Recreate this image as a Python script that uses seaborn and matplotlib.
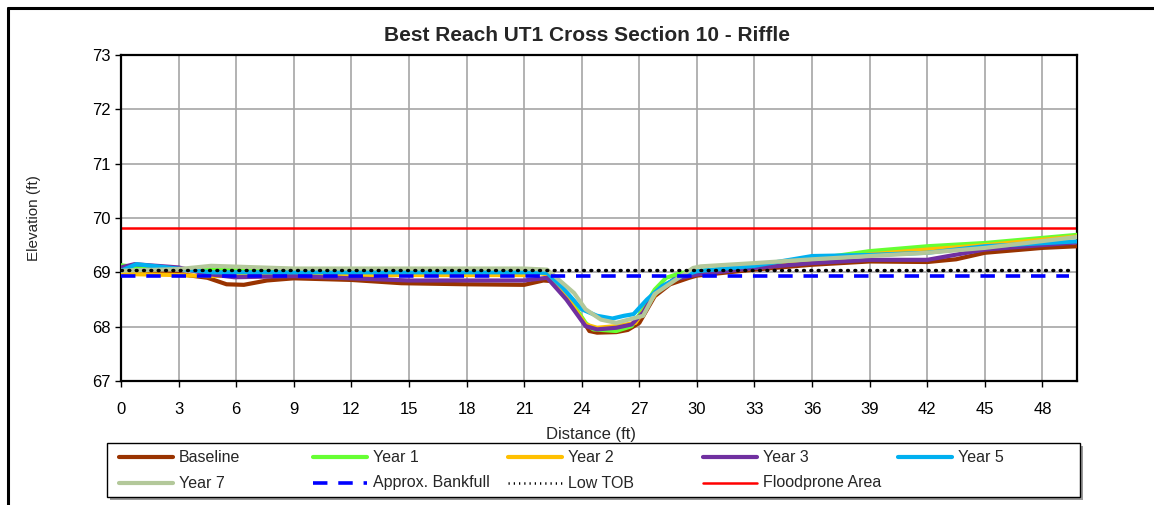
"""Cross section plot: Best Reach UT1 XS 10 (riffle), survey overlay."""

import matplotlib
import matplotlib.pyplot as plt
import pandas as pd
import seaborn as sns
from matplotlib.lines import Line2D
from matplotlib.patches import Rectangle

matplotlib.use("Agg")

W, H = 1154, 505

# Survey data (distance ft, elevation ft)
baseline_x = [0, 1, 3, 4.5, 5.5, 6.4, 7.6, 9, 12, 14.6, 18, 21, 22, 22.4, 23.2, 23.8, 24.4, 24.8,
              25.8, 26.4, 27, 27.8, 28.6, 29.6, 30, 33, 36, 39, 42, 43.5, 45, 48, 49.8]
baseline_y = [69.0, 69.02, 68.97, 68.9, 68.78, 68.77, 68.85, 68.89, 68.86, 68.8, 68.78, 68.77, 68.85,
              68.84, 68.56, 68.26, 67.92, 67.89, 67.9, 67.94, 68.07, 68.56, 68.78, 68.9, 68.94, 69.05,
              69.14, 69.2, 69.19, 69.24, 69.36, 69.45, 69.48]

year1_x = [0, 0.7, 3, 9, 15, 21, 22.2, 23.2, 24.2, 24.6, 25.8, 26.6, 27.2, 27.8, 28.4, 29.2, 30,
           33, 36, 39, 42, 45, 49.8]
year1_y = [69.13, 69.1, 69.06, 69.06, 69.06, 69.06, 69.02, 68.6, 68.07, 67.95, 67.92, 68.01, 68.32,
           68.68, 68.9, 68.99, 69.02, 69.12, 69.24, 69.39, 69.48, 69.54, 69.69]

year2_x = [0, 3, 4.5, 9, 15, 21, 21.6, 22.2, 23.2, 24.2, 24.8, 25.8, 26.8, 27.4, 28, 29, 30,
           33, 36, 39, 42, 45, 49.8]
year2_y = [68.97, 68.95, 68.93, 68.95, 68.95, 68.95, 69.0, 68.96, 68.55, 68.04, 67.98, 68.01, 68.07,
           68.38, 68.68, 68.9, 68.99, 69.08, 69.2, 69.33, 69.42, 69.5, 69.66]

year3_x = [0, 0.7, 3, 4.5, 5.9, 9, 12, 15, 21, 22.2, 23.2, 24.2, 24.8, 25.8, 26.6, 27.2, 27.8,
           28.8, 30, 33, 36, 39, 42, 45, 49.8]
year3_y = [69.09, 69.15, 69.09, 68.97, 68.91, 68.93, 68.89, 68.85, 68.85, 68.9, 68.5, 68.01, 67.95,
           67.98, 68.04, 68.26, 68.62, 68.87, 68.96, 69.08, 69.17, 69.23, 69.23, 69.42, 69.55]

year5_x = [0, 0.8, 2.4, 4.7, 9, 15, 21, 22.2, 23, 24, 24.8, 25.6, 26.2, 26.7, 27.4, 28.2, 29.2,
           30, 33, 36, 39, 42, 45, 49.8]
year5_y = [69.03, 69.15, 69.09, 69.0, 69.0, 69.0, 69.0, 68.99, 68.72, 68.32, 68.2, 68.15, 68.2,
           68.23, 68.5, 68.75, 68.93, 69.02, 69.12, 69.3, 69.32, 69.36, 69.48, 69.57]

year7_x = [0, 3, 4.7, 9, 15, 21, 22.2, 23.6, 24.2, 25, 25.8, 27.2, 27.8, 29.8, 30.2, 33, 36,
           39, 42, 45, 49.8]
year7_y = [69.03, 69.06, 69.12, 69.07, 69.07, 69.07, 69.05, 68.62, 68.32, 68.13, 68.07, 68.2,
           68.6, 69.08, 69.11, 69.17, 69.24, 69.3, 69.36, 69.45, 69.65]

surveys = ["Baseline", "Year 1", "Year 2", "Year 3", "Year 5", "Year 7"]
survey_colors = ["#993300", "#66FF33", "#FFC000", "#7030A0", "#00B0F0", "#B3C89A"]

# Reference elevations
bankfull_elev = 68.93
low_tob_elev = 69.05
floodprone_elev = 69.81
flood_x = [0, 49.8]
ref_x = [0, 49.4]

x_ticks = list(range(0, 49, 3))
y_ticks = list(range(67, 74))


def build_frame():
    pieces = []
    for name, xs, ys in zip(
        surveys,
        [baseline_x, year1_x, year2_x, year3_x, year5_x, year7_x],
        [baseline_y, year1_y, year2_y, year3_y, year5_y, year7_y],
    ):
        pieces.append(pd.DataFrame({"distance": xs, "elevation": ys, "survey": name}))
    return pd.concat(pieces, ignore_index=True)


def px(x, y):
    # pixel coords (top-left origin) -> figure fraction
    return x / W, 1 - y / H


def draw_legend(fig, entries):
    # Excel-style legend: fixed column pitch, two rows, box with a grey shadow
    x0, y0 = px(107, 497)
    x1, y1 = px(1080, 443)
    fig.add_artist(Rectangle((x0 + 3 / W, y0 - 3 / H), x1 - x0, y1 - y0,
                             transform=fig.transFigure, facecolor="#9a9a9a",
                             edgecolor="none", zorder=5))
    fig.add_artist(Rectangle((x0, y0), x1 - x0, y1 - y0, transform=fig.transFigure,
                             facecolor="white", edgecolor="black", linewidth=1.0, zorder=6))
    col_x = [119, 313, 508, 703, 898]
    row_y = [457, 483]
    for i, (label, style) in enumerate(entries):
        cx = col_x[i % 5]
        cy = row_y[i // 5]
        (ax_, ay), (bx, _) = px(cx, cy), px(cx + 54, cy)
        line = Line2D([ax_, bx], [ay, ay], transform=fig.transFigure, zorder=7, **style)
        fig.add_artist(line)
        tx, ty = px(cx + 60, cy)
        fig.text(tx, ty, label, fontsize=11.5, va="center", ha="left", zorder=7)


def main():
    sns.set_style("white")
    plt.rcParams["font.family"] = ["Liberation Sans", "DejaVu Sans"]

    fig = plt.figure(figsize=(W / 100, H / 100), dpi=100)
    ax = fig.add_axes([121 / W, 1 - 381 / H, (1077 - 121) / W, (381 - 55) / H])

    df = build_frame()
    palette = dict(zip(surveys, survey_colors))

    flood = pd.DataFrame({"distance": flood_x, "elevation": [floodprone_elev] * 2})
    bkf = pd.DataFrame({"distance": ref_x, "elevation": [bankfull_elev] * 2})
    tob = pd.DataFrame({"distance": ref_x, "elevation": [low_tob_elev] * 2})

    sns.lineplot(data=flood, x="distance", y="elevation", color="#FF0000",
                 linewidth=1.8, ax=ax, zorder=2)

    sns.lineplot(data=df, x="distance", y="elevation", hue="survey", hue_order=surveys,
                 palette=palette, estimator=None, sort=False, linewidth=3.0,
                 legend=False, ax=ax, zorder=3)

    sns.lineplot(data=bkf, x="distance", y="elevation", color="#0000FF",
                 linewidth=2.6, ax=ax, zorder=4)
    ax.lines[-1].set_dashes([4, 3])
    sns.lineplot(data=tob, x="distance", y="elevation", color="black",
                 linewidth=2.4, ax=ax, zorder=4)
    ax.lines[-1].set_dashes([0.3, 1.9])
    ax.lines[-1].set_dash_capstyle("round")

    ax.set_xlim(0, 49.8)
    ax.set_ylim(67, 73)
    ax.set_xticks(x_ticks)
    ax.set_yticks(y_ticks)
    ax.grid(True, color="#A6A6A6", linewidth=1.2)
    ax.set_axisbelow(True)
    for s in ax.spines.values():
        s.set_visible(True)
        s.set_color("black")
        s.set_linewidth(1.6)
    ax.tick_params(axis="both", direction="out", length=4, width=1, labelsize=12,
                   colors="black", bottom=True, left=True)
    ax.tick_params(axis="x", pad=11)

    ax.set_xlabel("Distance (ft)", fontsize=12)
    ax.xaxis.set_label_coords((591 - 121) / 956, -0.14)
    ax.set_ylabel("Elevation (ft)", fontsize=11, labelpad=37)
    ax.set_title("Best Reach UT1 Cross Section 10 - Riffle", fontsize=15,
                 fontweight="bold", pad=10, x=(587 - 121) / 956)

    entries = [(name, {"color": c, "linewidth": 3.0, "solid_capstyle": "round"})
               for name, c in zip(surveys, survey_colors)]
    entries.append(("Approx. Bankfull", {"color": "#0000FF", "linewidth": 2.6,
                                         "dashes": [4, 3]}))
    entries.append(("Low TOB", {"color": "black", "linewidth": 1.8,
                                "dashes": [0.5, 1.6]}))
    entries.append(("Floodprone Area", {"color": "#FF0000", "linewidth": 1.8}))
    draw_legend(fig, entries)

    # outer chart-area border
    fig.add_artist(Line2D([8 / W, 8 / W], [0, 1 - 8 / H], color="black",
                          linewidth=2.2, transform=fig.transFigure))
    fig.add_artist(Line2D([8 / W, 1], [1 - 8 / H, 1 - 8 / H], color="black",
                          linewidth=2.2, transform=fig.transFigure))

    fig.savefig("out.png", dpi=100)
    plt.close(fig)


if __name__ == "__main__":
    main()
